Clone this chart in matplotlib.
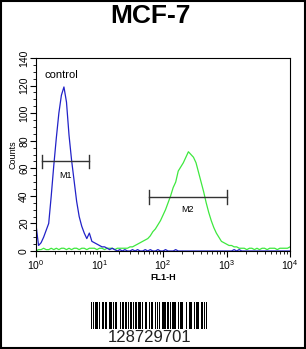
import matplotlib
matplotlib.use("Agg")
import matplotlib.pyplot as plt
import numpy as np
from matplotlib.patches import Rectangle
from matplotlib.ticker import MultipleLocator, LogLocator, NullFormatter

plt.rcParams['font.family'] = ['Liberation Sans', 'DejaVu Sans']

title = "MCF-7"
barcode_text = "128729701"

# channel positions, log10(FL1-H), step 0.04 decades
log_pos = [i * 0.04 for i in range(101)]

control_counts = [
    19, 4, 6, 10, 15, 20, 40, 62, 82, 100,
    113, 119, 108, 84, 66, 51, 36, 25, 18, 13,
    9, 13, 7, 6, 5, 4, 3, 3, 2, 1,
    2, 1, 0, 1, 0, 1, 0, 0, 1, 0,
    1, 0, 0, 1, 0, 1, 0, 0, 1, 0,
    0, 1, 0, 0, 0, 1, 0, 0, 0, 0,
    0, 0, 0, 0, 0, 0, 0, 0, 0, 0,
    0, 0, 0, 0, 0, 0, 0, 0, 1, 0,
    1, 0, 0, 0, 0, 0, 0, 0, 0, 0,
    0, 0, 0, 0, 0, 0, 0, 0, 0, 0,
    0,
]

sample_counts = [
    0, 1, 1, 2, 1, 1, 2, 1, 2, 1,
    2, 2, 1, 2, 1, 2, 2, 1, 2, 2,
    1, 2, 2, 2, 1, 2, 2, 1, 2, 2,
    2, 1, 2, 2, 2, 2, 2, 3, 3, 4,
    5, 6, 7, 8, 9, 11, 14, 16, 19, 22,
    26, 30, 35, 40, 46, 50, 58, 61, 64, 68,
    72, 70, 68, 64, 57, 50, 43, 35, 28, 22,
    17, 13, 10, 7, 6, 5, 4, 4, 3, 3,
    2, 2, 2, 1, 2, 2, 1, 2, 1, 2,
    2, 1, 2, 2, 2, 1, 2, 2, 2, 2,
    3,
]

# gates: (name, left, right, y, label y)
gates = [("M1", 1.23, 6.9, 65, 55), ("M2", 60, 1000, 39, 30)]

barcode = ("1101001110010" "1011001110010" "1100101110010" "1001110110010"
           "1110110111010" "1100100111010" "1001110011010" "1100011101010"
           "1010011011010" "1101101001010" "1011010011010" "1100011101011")

fig = plt.figure(figsize=(3.06, 3.49), dpi=100)

ax = fig.add_axes([36/306, 98/349, 254/306, 193/349])
x = 10 ** np.array(log_pos)
ax.plot(x, sample_counts, color='#3ee83e', lw=0.9)
ax.plot(x, control_counts, color='#2222c8', lw=0.9)

ax.set_xscale('log')
ax.set_xlim(1, 10000)
ax.set_ylim(0, 140)
ax.yaxis.set_major_locator(MultipleLocator(20))
ax.yaxis.set_minor_locator(MultipleLocator(5))
ax.xaxis.set_minor_locator(LogLocator(base=10, subs=np.arange(2, 10)))
ax.xaxis.set_minor_formatter(NullFormatter())
ax.tick_params(axis='both', which='major', length=4, width=0.8, labelsize=7.5, pad=1)
ax.tick_params(axis='both', which='minor', length=2, width=0.6)
for lab in ax.get_yticklabels():
    lab.set_rotation(90)
    lab.set_va('center')
for s in ax.spines.values():
    s.set_linewidth(0.8)

ax.set_ylabel("Counts", fontsize=6.5, labelpad=1)
ax.set_xlabel("FL1-H", fontsize=6.5, fontweight='bold', labelpad=1)

ax.text(1.35, 128, "control", fontsize=8, va='center', ha='left')

for name, lo, hi, yy, ly in gates:
    ax.plot([lo, hi], [yy, yy], color='#333333', lw=1)
    ax.plot([lo, lo], [yy - 5, yy + 5], color='#333333', lw=1)
    ax.plot([hi, hi], [yy - 5, yy + 5], color='#333333', lw=1)
    ax.text(np.sqrt(lo * hi), ly, name, fontsize=6.5, ha='center', va='center')

fig.text(150/306, 1 - 16/349, title, fontsize=19, fontweight='bold',
         ha='center', va='center')

# barcode
bax = fig.add_axes([91/306, 1 - 329/349, 116/306, 27/349])
n = len(barcode)
for i, c in enumerate(barcode):
    if c == '1':
        bax.add_patch(Rectangle((i, 0), 1, 1, color='black', lw=0))
bax.set_xlim(0, n)
bax.set_ylim(0, 1)
bax.axis('off')
fig.text(150/306, 1 - 337/349, barcode_text, fontsize=12, ha='center',
         va='center', color='#222222')

fig.add_artist(Rectangle((0.002, 0.002), 0.996, 0.996, transform=fig.transFigure,
                         fill=False, ec='black', lw=1.5))

fig.savefig("out.png", dpi=100)
